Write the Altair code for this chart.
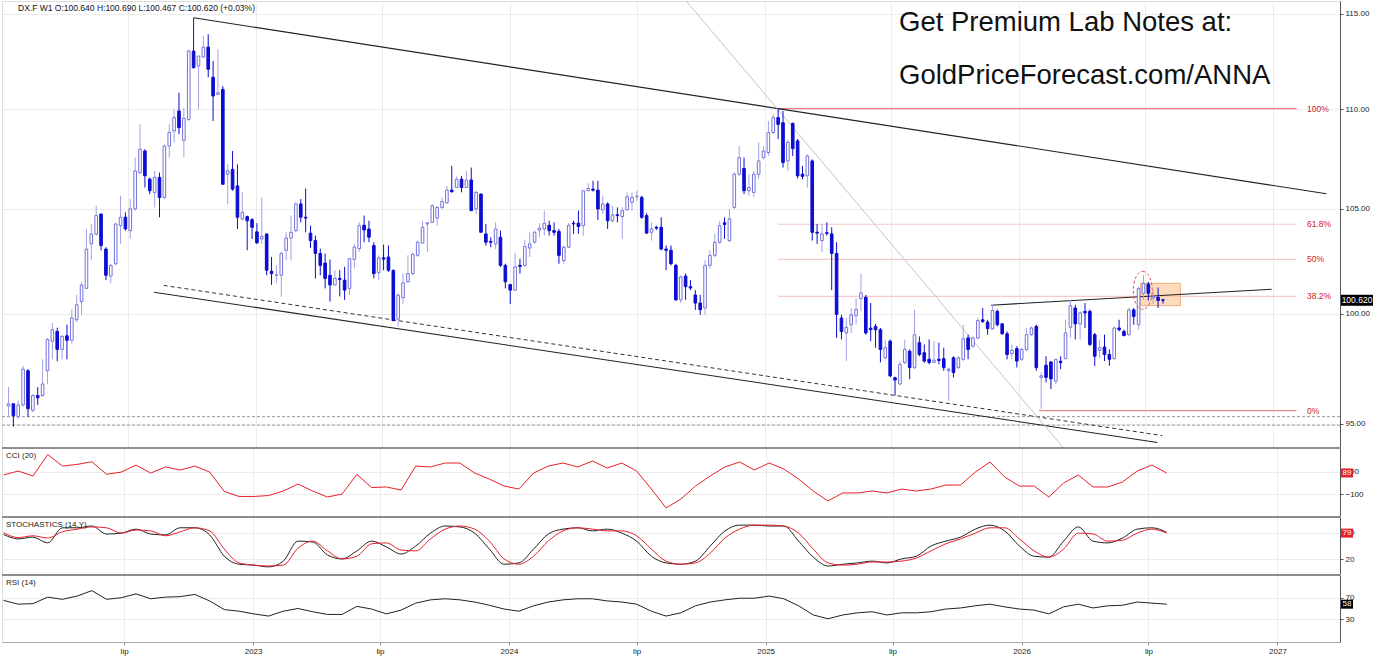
import altair as alt
import pandas as pd

# ---------------- weekly candles (DX.F, W1) ----------------
opens = [95.79,95.88,95.30,95.83,97.37,95.59,96.25,96.25,97.37,98.72,99.17,98.34,98.97,98.76,99.71,100.56,101.18,103.30,103.78,104.75,
103.05,101.76,102.35,104.18,104.59,103.94,105.00,106.79,107.87,106.46,105.81,106.55,105.56,108.12,108.88,109.90,108.41,109.47,113.01,112.23,
112.70,113.22,111.64,110.75,111.01,106.71,106.95,106.13,104.51,104.62,104.47,103.88,103.54,103.78,101.99,101.80,101.80,102.99,103.58,103.94,
105.24,104.59,103.82,103.46,102.84,102.38,101.80,101.34,101.65,101.57,101.18,102.55,103.07,104.20,104.02,103.22,101.92,102.63,102.67,102.03,
99.74,100.75,101.50,101.88,102.75,103.34,104.26,104.34,104.55,105.07,105.30,105.92,106.05,106.46,106.05,106.42,104.99,105.73,103.78,103.42,
103.30,103.62,102.27,101.36,101.10,102.27,102.27,103.10,103.38,103.97,104.02,104.20,103.94,103.90,102.50,103.14,104.30,104.30,104.18,105.89,
105.97,105.92,104.95,105.24,104.42,104.71,104.62,104.95,105.32,105.60,105.56,104.67,103.86,104.10,104.10,103.05,102.99,102.27,100.64,101.76,
101.26,100.87,100.49,100.26,102.27,102.75,103.38,104.32,103.46,105.07,106.71,107.00,105.89,105.81,106.71,107.54,107.79,108.80,109.56,109.30,
107.37,109.27,108.38,106.71,106.63,107.37,103.86,103.46,103.84,103.78,102.84,99.79,99.10,99.48,99.90,100.70,100.76,99.32,99.40,99.25,
97.96,98.72,97.05,96.77,97.74,98.26,97.51,98.65,98.19,97.89,97.75,97.89,97.92,97.37,97.96,97.51,97.89,98.87,98.49,98.87,
99.71,99.60,99.29,100.10,99.52,99.06,98.15,98.38,97.89,98.34,99.02,99.40,97.07,97.62,97.77,96.90,97.80,97.92,99.36,100.26,
99.52,100.10,100.10,99.02,98.30,98.45,98.11,97.92,99.33,99.17,99.02,100.17,99.48,100.95,101.38,100.73,100.76,100.64]
highs = [96.63,95.88,96.03,97.59,97.44,96.32,96.63,97.89,98.87,99.56,99.34,99.02,99.48,100.20,100.87,101.49,104.02,104.26,105.15,104.75,
103.14,102.35,104.34,105.64,104.83,105.48,107.54,109.22,107.96,106.55,106.87,106.79,108.20,109.22,109.98,110.84,110.07,113.10,114.78,112.75,
113.81,113.90,112.49,113.10,111.18,107.20,107.87,107.20,105.81,104.67,104.55,104.30,105.56,103.78,102.67,102.27,102.91,103.86,104.67,105.32,
105.48,106.00,104.18,103.70,103.07,102.84,102.55,102.04,102.04,102.20,102.63,103.30,104.34,104.67,104.42,103.38,102.75,103.27,103.22,102.08,
100.97,101.88,102.75,102.87,103.46,104.42,104.34,105.24,105.15,105.56,106.13,107.12,106.60,106.63,106.87,107.04,105.89,105.73,104.26,103.62,
104.34,103.94,102.35,101.40,102.87,102.59,103.50,103.86,103.94,104.30,104.91,104.42,104.34,104.02,103.22,104.30,104.42,104.91,105.92,106.26,
106.38,106.38,105.64,105.32,105.15,105.07,105.07,105.81,105.81,105.89,105.64,104.79,104.34,104.18,104.59,103.22,103.22,102.35,101.80,101.88,
101.57,101.10,100.87,102.51,102.99,103.78,104.42,104.59,104.99,106.79,108.12,107.54,106.71,106.87,108.30,108.12,109.39,109.73,110.05,109.90,
108.43,109.30,108.47,107.12,107.70,107.45,104.26,104.26,104.34,104.10,103.38,99.94,99.79,100.26,100.73,101.88,100.87,100.49,99.52,99.33,
98.80,98.80,97.10,97.80,98.80,98.34,100.17,98.94,98.57,98.80,98.72,98.65,98.42,97.51,98.03,98.03,99.48,99.02,98.94,99.79,
100.26,99.71,100.42,100.19,99.56,99.17,98.57,98.49,98.42,99.33,99.40,99.48,97.29,98.03,97.80,97.89,98.03,99.71,100.64,100.41,
100.10,100.49,100.19,99.10,98.80,99.02,98.34,99.40,99.71,99.25,100.26,100.26,101.26,101.80,101.49,101.10,101.22,100.69]
lows = [95.31,94.87,95.22,95.75,95.30,95.51,95.83,96.20,96.77,97.89,97.80,97.89,97.89,98.60,99.60,99.94,101.18,102.51,103.70,102.99,
101.57,101.42,102.27,103.30,103.94,103.54,104.91,106.71,106.05,105.72,105.07,104.59,105.48,107.54,108.30,108.72,107.54,109.39,112.10,109.98,
112.70,111.64,109.39,110.75,106.21,105.23,105.89,104.02,104.42,102.99,103.54,103.30,103.30,101.80,101.34,101.42,100.79,102.51,102.51,103.86,
104.34,103.86,103.11,101.65,101.80,101.18,100.56,101.34,100.80,100.64,100.87,102.12,102.91,103.38,103.38,101.65,101.57,102.04,101.96,99.64,
99.40,100.43,101.41,101.80,102.67,103.30,102.91,104.34,104.18,104.99,105.24,105.80,106.05,105.81,106.05,104.91,104.75,103.86,103.22,103.14,
103.05,102.20,101.18,100.45,101.04,101.88,102.20,102.67,103.30,103.62,103.70,103.70,103.70,102.35,102.35,103.10,103.78,103.78,103.70,105.89,
105.85,104.46,104.75,104.02,104.34,104.34,103.54,104.91,104.91,105.40,104.51,103.78,103.46,103.97,102.99,102.04,102.27,100.60,100.49,100.64,
101.10,100.17,99.94,99.95,102.12,102.67,103.30,103.54,103.38,104.99,106.63,105.72,105.64,105.56,106.46,107.45,107.62,108.72,108.47,107.04,
106.87,107.62,106.50,106.46,106.05,103.46,103.30,102.91,103.70,101.10,98.87,98.80,97.80,99.10,99.50,100.10,99.02,98.72,98.42,97.75,
97.89,97.07,96.25,96.70,97.66,96.99,97.44,98.03,97.73,97.66,97.75,97.66,97.37,96.03,97.07,97.44,97.81,97.89,98.42,98.80,
99.56,99.02,99.25,99.40,99.02,97.89,97.89,97.52,97.81,98.26,98.94,97.37,95.66,96.84,96.54,96.77,97.44,97.89,98.87,98.80,
98.80,99.33,98.49,97.59,97.96,97.81,97.60,97.89,99.17,98.94,98.94,99.48,99.25,100.64,100.61,100.45,100.26,100.467]
closes = [95.88,95.35,95.83,97.44,95.66,96.25,96.15,96.77,98.80,99.25,98.34,98.94,98.76,99.79,100.41,101.34,103.05,103.78,104.67,103.22,
101.80,102.27,104.26,104.59,104.02,105.00,106.87,107.96,106.63,105.89,106.55,105.56,108.12,108.80,109.56,109.05,109.52,113.01,112.14,112.75,
113.22,112.06,110.67,110.84,106.21,106.87,105.97,104.59,104.83,104.42,104.10,103.35,103.66,102.04,101.88,101.82,102.84,103.58,103.86,105.24,
104.59,104.55,103.46,102.84,102.27,101.65,101.34,101.65,101.60,101.10,102.59,103.15,104.18,103.97,103.62,101.88,102.63,102.57,102.04,99.67,
100.86,101.44,101.88,102.80,103.38,104.10,104.32,105.15,105.07,105.36,105.92,105.84,106.46,106.05,106.42,104.91,105.81,103.86,103.38,103.38,
104.02,102.27,101.49,101.10,102.20,102.22,103.17,103.30,103.86,104.06,104.30,103.94,103.86,102.75,103.14,104.20,104.26,104.14,105.89,106.00,
105.92,104.99,105.24,104.42,104.71,104.67,104.91,105.60,105.56,105.62,104.59,103.82,104.02,104.06,103.05,102.99,102.35,100.64,101.72,101.26,
101.20,100.49,100.18,102.27,102.75,103.38,104.18,104.24,104.51,106.71,107.54,105.89,106.05,106.71,107.37,107.87,108.80,109.56,109.22,107.29,
108.30,107.99,106.63,106.60,107.62,103.86,103.82,103.78,103.80,102.84,99.96,99.17,99.36,99.94,100.19,100.97,99.10,99.25,99.25,98.34,
98.42,97.14,96.95,97.66,98.34,97.51,99.02,98.11,97.81,97.75,97.85,97.84,97.51,97.44,97.29,97.96,98.83,98.34,98.87,99.68,
99.63,99.30,100.14,99.48,99.06,98.11,98.30,97.81,98.34,99.02,99.33,97.51,97.14,97.07,97.00,97.89,97.74,99.10,100.37,99.52,
100.03,100.03,98.57,98.03,98.42,98.11,97.89,99.33,99.25,98.98,100.17,99.86,101.18,101.41,100.95,100.80,100.61,100.62]
change_pct = 0.03

# ---------------- indicators, sampled every 3rd week ----------------
cci = [71,106,62,252,150,165,188,77,97,159,88,142,115,150,97,-75,-119,-119,-111,-71,
-9,-71,-124,-97,77,-40,-35,-62,150,142,177,177,88,35,-27,-53,88,150,177,142,
195,133,177,106,-53,-221,-142,-27,62,142,186,115,177,124,35,-71,-159,-88,-88,-71,
-88,-53,-71,-53,-18,-18,97,186,53,-27,-27,-124,0,71,-35,-35,9,106,159,89]
stoch_k = [76,66,70,57,91,91,95,77,79,88,77,75,91,91,75,27,9,7,3,16,
61,59,30,21,39,61,48,32,50,79,95,93,79,43,9,12,43,77,88,91,
84,88,79,61,27,12,9,16,50,84,97,97,95,95,61,25,5,9,12,16,
12,21,27,50,61,70,88,97,84,50,27,25,61,93,61,57,68,88,91,81]
stoch_d = [80,69,73,68,82,88,93,91,79,86,84,73,82,91,84,43,12,7,5,7,
45,61,39,21,27,55,57,41,39,66,88,95,88,61,21,9,27,61,84,91,
88,84,84,73,43,16,9,12,34,68,88,97,97,95,79,43,12,7,9,14,
14,16,23,39,55,66,79,91,91,66,39,25,43,79,77,61,63,79,88,79]
rsi = [65,58,59,71,67,73,83,67,70,77,68,71,72,76,64,48,45,40,36,45,
50,44,39,39,54,49,40,47,60,66,68,66,62,56,49,45,55,62,66,68,
68,64,62,58,45,36,42,55,62,66,69,69,73,68,55,38,31,38,42,44,
38,42,42,44,49,51,55,58,53,49,47,40,53,58,51,55,56,62,60,58]

# ---------------- drawn objects ----------------
trend_names = ["down", "low_solid", "low_dash", "gray_diag", "neck"]
trend_d1 = ["2022-10-06", "2022-08-10", "2022-08-24", "2024-09-13", "2025-11-25"]
trend_p1 = [114.78, 101.00, 101.32, 115.68, 100.39]
trend_d2 = ["2027-03-22", "2026-07-22", "2026-07-29", "2026-03-08", "2027-01-02"]
trend_p2 = [105.74, 94.17, 94.47, 93.97, 101.14]

fib_labels = ["100%", "61.8%", "50%", "38.2%", "0%"]
fib_prices = [110.02, 104.25, 102.56, 100.80, 95.58]
fib_starts = ["2025-01-23", "2025-01-23", "2025-01-23", "2025-01-23", "2026-02-02"]
fib_end = "2027-02-07"

support_levels = [95.31, 94.93]
box_dates = ["2026-06-28", "2026-08-24"]
box_prices = [100.37, 101.42]
ellipse_date = "2026-07-01"
ellipse_price = 101.09

year_ticks = [(2022, 7), (2023, 1), (2023, 7), (2024, 1), (2024, 7), (2025, 1),
              (2025, 7), (2026, 1), (2026, 7), (2027, 1)]

# ---------------- frames ----------------
n = len(closes)
t0 = pd.Timestamp("2022-01-13")
dates = [(t0 + pd.Timedelta(days=7 * i)).strftime("%Y-%m-%d") for i in range(n)]
candles = pd.DataFrame({"date": dates, "o": opens, "h": highs, "l": lows, "c": closes})
candles["dir"] = ["up" if c >= o else "down" for o, c in zip(opens, closes)]
candles["b0"] = candles[["o", "c"]].min(axis=1)
candles["b1"] = candles[["o", "c"]].max(axis=1)
candles["hh"] = candles[["h", "b1"]].max(axis=1)
candles["ll"] = candles[["l", "b0"]].min(axis=1)
up_c = candles[candles["dir"] == "up"]
down_c = candles[candles["dir"] == "down"]

ind_idx = list(range(0, n, 3))
ind = pd.DataFrame({"date": [dates[i] for i in ind_idx], "cci": cci, "k": stoch_k,
                    "d": stoch_d, "rsi": rsi})

trend_rows = []
for nm, a, pa, b, pb in zip(trend_names, trend_d1, trend_p1, trend_d2, trend_p2):
    trend_rows.append({"name": nm, "date": a, "price": pa})
    trend_rows.append({"name": nm, "date": b, "price": pb})
trends = pd.DataFrame(trend_rows)
fib = pd.DataFrame({"lab": fib_labels, "price": fib_prices, "d1": fib_starts,
                    "d2": [fib_end] * len(fib_labels)})

# ---------------- scales / axes ----------------
FONT = "Liberation Sans"
W = 1338
xscale = alt.Scale(type="utc", domain=[
    alt.DateTime(year=2022, month=1, date=10, hours=20, utc=True),
    alt.DateTime(year=2027, month=4, date=3, hours=6, utc=True)])
tick_vals = [alt.DateTime(year=y, month=m, date=4, utc=True) for y, m in year_ticks]
GRID = "#ececec"
grid_axis = alt.Axis(values=tick_vals, labels=False, ticks=False, domain=False,
                     title=None, grid=True, gridColor=GRID)
bottom_axis = alt.Axis(values=tick_vals, title=None, grid=True, gridColor=GRID,
                       labelExpr="utcmonth(datum.value) == 6 ? 'lip' : utcFormat(datum.value, '%Y')",
                       labelFontSize=8, labelColor="#222", tickSize=3, tickColor="#999",
                       domainColor="#aaa", labelPadding=2, labelFont=FONT)

def xe(field, axis=grid_axis):
    return alt.X(field, type="temporal", scale=xscale, axis=axis, title=None)

def yaxis(vals, fmt):
    return alt.Axis(orient="right", values=vals, format=fmt, title=None, grid=True,
                    gridColor=GRID, labelFontSize=8, labelColor="#222", tickSize=3,
                    tickColor="#555", domainColor="#555", labelPadding=2, labelFont=FONT)

yscale = alt.Scale(type="log", domain=[93.97, 115.68], nice=False)
y_main_axis = yaxis([95, 100, 105, 110, 115], ".2f")

UP_EDGE = "#7272dc"
UP_WICK = "#a2a2ea"
DOWN = "#0c0cd2"

# ---------------- main price panel ----------------
def ym(field):
    return alt.Y(field, type="quantitative", scale=yscale, axis=y_main_axis, title=None)

base_grid = alt.Chart(candles).mark_rule(opacity=0).encode(x=xe("date"), y=ym("c"))

support = alt.Chart(pd.DataFrame({"price": support_levels})).mark_rule(
    color="#9a9a9a", strokeDash=[3, 2], strokeWidth=1).encode(y=ym("price"))

fib_colors = {"100%": "#ee7a7a", "0%": "#ea8c8c"}
fib_layers = []
for i, lab in enumerate(fib_labels):
    fib_layers.append(alt.Chart(fib.iloc[[i]]).mark_rule(
        strokeWidth=1.2, color=fib_colors.get(lab, "#f6c8c8")).encode(
        x=xe("d1"), x2="d2", y=ym("price")))
fib_text = alt.Chart(fib).mark_text(align="left", baseline="middle", fontSize=8.5,
                                    color="#cc2222", font=FONT).encode(
    x=alt.value(1305), y=ym("price"), text="lab:N")

box = alt.Chart(pd.DataFrame({"d1": [box_dates[0]], "d2": [box_dates[1]],
                              "p1": [box_prices[0]], "p2": [box_prices[1]]})).mark_rect(
    fill="#fbcfa8", fillOpacity=0.75, stroke="#f2ad78", strokeWidth=1).encode(
    x=xe("d1"), x2="d2", y=ym("p1"), y2="p2")

line_styles = {
    "down": dict(color="#222222", strokeWidth=1.1),
    "low_solid": dict(color="#222222", strokeWidth=1.1),
    "low_dash": dict(color="#333333", strokeWidth=1, strokeDash=[4, 3]),
    "gray_diag": dict(color="#c4c4c4", strokeWidth=1),
    "neck": dict(color="#222222", strokeWidth=1.1),
}
trend_layers = []
for nm in trend_names:
    trend_layers.append(
        alt.Chart(trends[trends["name"] == nm]).mark_line(clip=True, **line_styles[nm]).encode(
            x=xe("date"), y=ym("price")))

wick_up = alt.Chart(up_c).mark_rule(strokeWidth=1, color=UP_WICK).encode(
    x=xe("date"), y=ym("ll"), y2="hh")
wick_dn = alt.Chart(down_c).mark_rule(strokeWidth=1, color=DOWN).encode(
    x=xe("date"), y=ym("ll"), y2="hh")
body_up = alt.Chart(up_c).mark_bar(width=2.6, strokeWidth=1, fill="#ffffff", stroke=UP_EDGE).encode(
    x=xe("date"), y=ym("b0"), y2="b1")
body_dn = alt.Chart(down_c).mark_bar(width=2.6, strokeWidth=1, fill=DOWN, stroke=DOWN).encode(
    x=xe("date"), y=ym("b0"), y2="b1")

ellipse = alt.Chart(pd.DataFrame({"date": [ellipse_date], "price": [ellipse_price]})).mark_point(
    shape="M0,-1 A0.5,1 0 1,1 0,1 A0.5,1 0 1,1 0,-1 Z", size=1444, filled=False,
    stroke="#e05a5a", strokeWidth=1, strokeDash=[3, 2], opacity=1).encode(
    x=xe("date"), y=ym("price"))

last_close = closes[-1]
one = pd.DataFrame({"v": [last_close]})
tag_main = alt.Chart(one).mark_rect(color="#000000", yOffset=-5.5, y2Offset=5.5).encode(
    x=alt.value(W + 1), x2=alt.value(W + 33), y=ym("v"), y2="v")
tag_main_t = alt.Chart(one).mark_text(color="white", fontSize=8.5, font=FONT, align="center",
                                      baseline="middle", text=f"{last_close:.3f}").encode(
    x=alt.value(W + 17), y=ym("v"))

header = alt.Chart(pd.DataFrame({"t": [
    f"DX.F  W1  O:{opens[-1]:.3f}  H:{highs[-1]:.3f}  L:{lows[-1]:.3f}  C:{closes[-1]:.3f}  (+{change_pct:.2f}%)"]})
).mark_text(align="left", baseline="middle", fontSize=8.5, color="#111", font=FONT).encode(
    x=alt.value(16), y=alt.value(7), text="t:N")
promo1 = alt.Chart(pd.DataFrame({"t": ["Get Premium Lab Notes at:"]})).mark_text(
    align="left", baseline="middle", fontSize=27.5, color="#111", font=FONT).encode(
    x=alt.value(897), y=alt.value(22), text="t:N")
promo2 = alt.Chart(pd.DataFrame({"t": ["GoldPriceForecast.com/ANNA"]})).mark_text(
    align="left", baseline="middle", fontSize=27.5, color="#111", font=FONT).encode(
    x=alt.value(897), y=alt.value(75), text="t:N")

main = alt.layer(base_grid, support, *fib_layers, box, *trend_layers, wick_up, wick_dn,
                 body_up, body_dn, ellipse, fib_text, tag_main, tag_main_t, header,
                 promo1, promo2).properties(width=W, height=446)

# ---------------- indicator panels ----------------
def sep_rule():
    return alt.Chart(pd.DataFrame({"a": [0]})).mark_rule(color="#8c8c8c", strokeWidth=2).encode(
        x=alt.value(0), x2=alt.value(W), y=alt.value(0))

def panel_label(text):
    return alt.Chart(pd.DataFrame({"t": [text]})).mark_text(
        align="left", baseline="middle", fontSize=8, color="#222", font=FONT).encode(
        x=alt.value(4), y=alt.value(7.5), text="t:N")

def tag(value, color, yscale_, text, w=12):
    d = pd.DataFrame({"v": [value]})
    r = alt.Chart(d).mark_rect(color=color, yOffset=-4.5, y2Offset=4.5).encode(
        x=alt.value(W + 1), x2=alt.value(W + 1 + w),
        y=alt.Y("v:Q", scale=yscale_, title=None), y2="v")
    t = alt.Chart(d).mark_text(color="white", fontSize=8, font=FONT, align="center",
                               baseline="middle", text=text).encode(
        x=alt.value(W + 1 + w / 2), y=alt.Y("v:Q", scale=yscale_, title=None))
    return [r, t]

cci_scale = alt.Scale(domain=[-292, 310], nice=False, zero=False)
cci_line = alt.Chart(ind).mark_line(color="#e8202a", strokeWidth=1).encode(
    x=xe("date"), y=alt.Y("cci:Q", scale=cci_scale, axis=yaxis([-100, 100], "d"), title=None))
cci_chart = alt.layer(cci_line, sep_rule(), panel_label("CCI (20)"),
                      *tag(cci[-1], "#e8202a", cci_scale, f"{cci[-1]}")).properties(
    width=W, height=68)

st_scale = alt.Scale(domain=[-13, 115.3], nice=False, zero=False)
st_k = alt.Chart(ind).mark_line(color="#222222", strokeWidth=1, interpolate="monotone").encode(
    x=xe("date"), y=alt.Y("k:Q", scale=st_scale, axis=yaxis([20, 80], "d"), title=None))
st_d = alt.Chart(ind).mark_line(color="#e8202a", strokeWidth=1, interpolate="monotone").encode(
    x=xe("date"), y=alt.Y("d:Q", scale=st_scale, axis=yaxis([20, 80], "d"), title=None))
stoch_chart = alt.layer(st_k, st_d, sep_rule(), panel_label("STOCHASTICS (14,Y)"),
                        *tag(stoch_d[-1], "#e8202a", st_scale, f"{stoch_d[-1]}")).properties(
    width=W, height=57)

rsi_scale = alt.Scale(domain=[-12, 112], nice=False, zero=False)
rsi_line = alt.Chart(ind).mark_line(color="#222222", strokeWidth=1).encode(
    x=xe("date", bottom_axis),
    y=alt.Y("rsi:Q", scale=rsi_scale, axis=yaxis([30, 70], "d"), title=None))
rsi_chart = alt.layer(rsi_line, sep_rule(), panel_label("RSI (14)"),
                      *tag(rsi[-1], "#000000", rsi_scale, f"{rsi[-1]}")).properties(
    width=W, height=67)

chart = alt.vconcat(main, cci_chart, stoch_chart, rsi_chart, spacing=1, bounds="flush").properties(
    padding={"left": 0, "right": 0, "top": 0, "bottom": 0}, background="white"
).configure_view(stroke=None).configure(font=FONT)

chart.save("out.html", embed_options={"renderer": "svg", "actions": False})
